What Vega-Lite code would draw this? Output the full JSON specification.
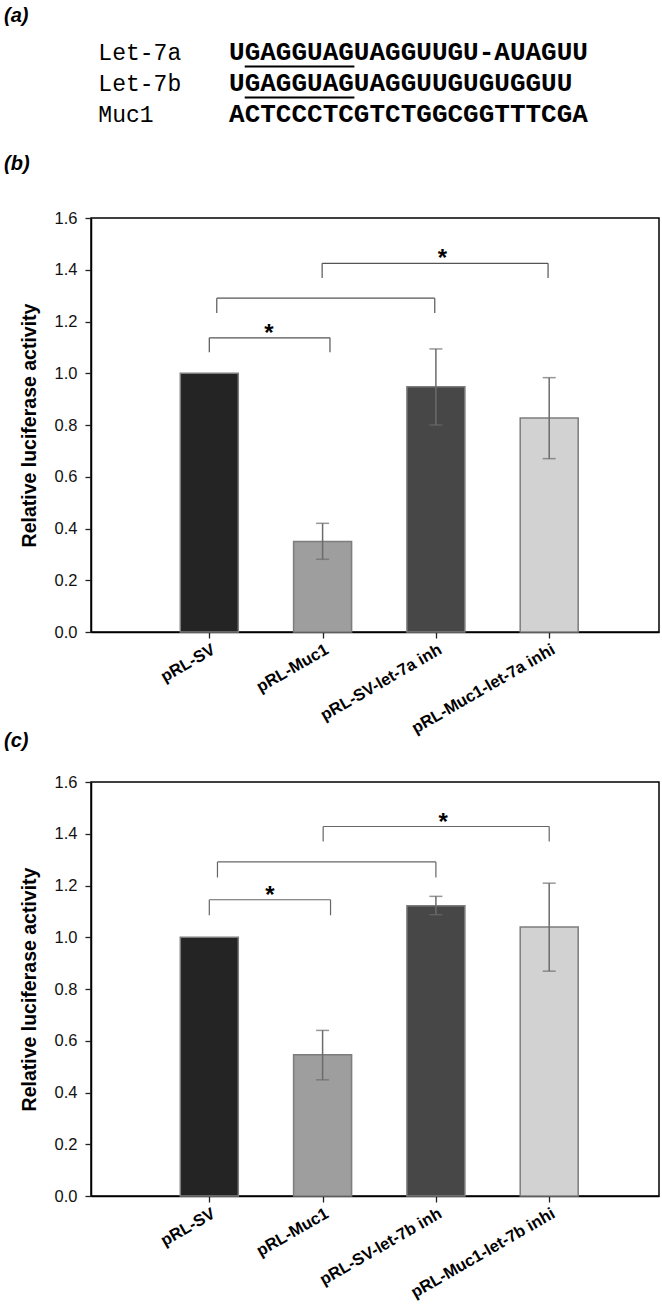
{
  "$schema": "https://vega.github.io/schema/vega-lite/v6.json",
  "padding": {"left": 3, "top": 6, "right": 0, "bottom": 0},
  "background": "white",
  "datasets": {
    "alignment": [
      {"name": "Let-7a", "sequence": "UGAGGUAGUAGGUUGU-AUAGUU", "row": 1, "seedStart": 1, "seedEnd": 8},
      {"name": "Let-7b", "sequence": "UGAGGUAGUAGGUUGUGUGGUU", "row": 2, "seedStart": 1, "seedEnd": 8},
      {"name": "Muc1", "sequence": "ACTCCCTCGTCTGGCGGTTTCGA", "row": 3, "seedStart": null, "seedEnd": null}
    ],
    "b_bars": [
      {"order": 1, "group": "pRL-SV", "value": 1.0, "lower": null, "upper": null},
      {"order": 2, "group": "pRL-Muc1", "value": 0.35, "lower": 0.281, "upper": 0.42},
      {"order": 3, "group": "pRL-SV-let-7a inh", "value": 0.948, "lower": 0.8, "upper": 1.094},
      {"order": 4, "group": "pRL-Muc1-let-7a inhi", "value": 0.827, "lower": 0.67, "upper": 0.983}
    ],
    "b_brackets": [
      {"from": 1.0, "to": 2.065, "y": 1.137, "leg": 1.081, "starAt": 1.526},
      {"from": 1.066, "to": 2.99, "y": 1.29, "leg": 1.233, "starAt": null},
      {"from": 1.996, "to": 3.99, "y": 1.425, "leg": 1.368, "starAt": 3.058}
    ],
    "c_bars": [
      {"order": 1, "group": "pRL-SV", "value": 1.0, "lower": null, "upper": null},
      {"order": 2, "group": "pRL-Muc1", "value": 0.546, "lower": 0.449, "upper": 0.64},
      {"order": 3, "group": "pRL-SV-let-7b inh", "value": 1.122, "lower": 1.087, "upper": 1.158},
      {"order": 4, "group": "pRL-Muc1-let-7b inhi", "value": 1.04, "lower": 0.869, "upper": 1.209}
    ],
    "c_brackets": [
      {"from": 1.0, "to": 2.07, "y": 1.145, "leg": 1.085, "starAt": 1.535},
      {"from": 1.072, "to": 3.0, "y": 1.291, "leg": 1.231, "starAt": null},
      {"from": 2.005, "to": 4.0, "y": 1.428, "leg": 1.37, "starAt": 3.065}
    ]
  },
  "spacing": 22,
  "vconcat": [
    {
      "title": {"text": "(a)", "offset": -6, "baseline": "alphabetic", "dx": -87},
      "width": 568,
      "height": 95,
      "view": {"stroke": null},
      "data": {"name": "alignment"},
      "layer": [
        {
          "mark": {"type": "text", "font": "Liberation Mono", "fontSize": 23, "align": "left", "baseline": "alphabetic", "color": "#000"},
          "encoding": {
            "x": {"datum": -8.34, "type": "quantitative", "scale": {"domain": [-8.81, 27.44], "nice": false, "zero": false}, "axis": null},
            "y": {"field": "row", "type": "quantitative", "scale": {"domain": [0.226, 3.29], "reverse": true, "nice": false, "zero": false}, "axis": null},
            "text": {"field": "name"}
          }
        },
        {
          "mark": {"type": "text", "font": "Liberation Mono", "fontSize": 26, "fontWeight": "bold", "align": "left", "baseline": "alphabetic", "color": "#000"},
          "encoding": {
            "x": {"datum": 0, "type": "quantitative", "scale": {"domain": [-8.81, 27.44], "nice": false, "zero": false}, "axis": null},
            "y": {"field": "row", "type": "quantitative", "scale": {"domain": [0.226, 3.29], "reverse": true, "nice": false, "zero": false}, "axis": null},
            "text": {"field": "sequence"}
          }
        },
        {
          "transform": [{"filter": "isValid(datum.seedStart)"}],
          "mark": {"type": "rule", "color": "#000", "strokeWidth": 2.2, "yOffset": 6.5},
          "encoding": {
            "x": {"field": "seedStart", "type": "quantitative", "scale": {"domain": [-8.81, 27.44], "nice": false, "zero": false}, "axis": null},
            "x2": {"field": "seedEnd"},
            "y": {"field": "row", "type": "quantitative", "scale": {"domain": [0.226, 3.29], "reverse": true, "nice": false, "zero": false}, "axis": null}
          }
        }
      ]
    },
    {
      "spacing": 150,
      "bounds": "flush",
      "vconcat": [
        {
          "title": {"text": "(b)", "offset": 20, "baseline": "alphabetic", "dx": -87},
          "width": 568,
          "height": 414,
          "layer": [
            {
              "data": {"name": "b_bars"},
              "mark": {"type": "bar", "size": 58, "stroke": "#7d7d7d", "strokeWidth": 1.5},
              "encoding": {
                "x": {"field": "order", "type": "quantitative", "scale": {"domain": [0, 4.925], "nice": false, "zero": false},
                  "axis": {"values": [1, 2, 3, 4], "labelExpr": "['', 'pRL-SV', 'pRL-Muc1', 'pRL-SV-let-7a inh', 'pRL-Muc1-let-7a inhi'][datum.value]", "labelAngle": -30, "labelAlign": "right", "labelBaseline": "top", "labelFontSize": 16.5, "labelFontWeight": "bold", "labelColor": "#000", "tickSize": 6, "labelPadding": 3, "title": null, "labelOverlap": false, "labelBound": false, "labelFlush": false}},
                "y": {"field": "value", "type": "quantitative", "scale": {"domain": [0, 1.6], "nice": false},
                  "axis": {"values": [0, 0.2, 0.4, 0.6, 0.8, 1.0, 1.2, 1.4, 1.6], "format": ".1f", "labelFontSize": 16.5, "tickSize": 6, "labelPadding": 8, "title": "Relative luciferase activity", "titleFontSize": 19.5, "titleFontWeight": "bold", "titleColor": "#000", "titlePadding": 15, "labelFlush": false}},
                "color": {"field": "order", "type": "ordinal", "scale": {"range": ["#242424", "#9e9e9e", "#474747", "#d2d2d2"]}, "legend": null}
              }
            },
            {
              "data": {"name": "b_bars"},
              "transform": [{"filter": "isValid(datum.upper)"}],
              "mark": {"type": "rule", "color": "#6b6b6b", "strokeWidth": 1.5},
              "encoding": {
                "x": {"field": "order", "type": "quantitative", "scale": {"domain": [0, 4.925], "nice": false, "zero": false}},
                "y": {"field": "lower", "type": "quantitative", "scale": {"domain": [0, 1.6], "nice": false}},
                "y2": {"field": "upper"}
              }
            },
            {
              "data": {"name": "b_bars"},
              "transform": [{"filter": "isValid(datum.upper)"}, {"fold": ["lower", "upper"], "as": ["end", "cap"]}],
              "mark": {"type": "tick", "orient": "horizontal", "size": 13, "thickness": 1.5, "color": "#6b6b6b"},
              "encoding": {
                "x": {"field": "order", "type": "quantitative", "scale": {"domain": [0, 4.925], "nice": false, "zero": false}},
                "y": {"field": "cap", "type": "quantitative", "scale": {"domain": [0, 1.6], "nice": false}}
              }
            },
            {
              "data": {"name": "b_brackets"},
              "mark": {"type": "rule", "color": "#555", "strokeWidth": 1.2},
              "encoding": {
                "x": {"field": "from", "type": "quantitative", "scale": {"domain": [0, 4.925], "nice": false, "zero": false}},
                "x2": {"field": "to"},
                "y": {"field": "y", "type": "quantitative", "scale": {"domain": [0, 1.6], "nice": false}}
              }
            },
            {
              "data": {"name": "b_brackets"},
              "transform": [{"fold": ["from", "to"], "as": ["side", "xEnd"]}],
              "mark": {"type": "rule", "color": "#555", "strokeWidth": 1.2},
              "encoding": {
                "x": {"field": "xEnd", "type": "quantitative", "scale": {"domain": [0, 4.925], "nice": false, "zero": false}},
                "y": {"field": "leg", "type": "quantitative", "scale": {"domain": [0, 1.6], "nice": false}},
                "y2": {"field": "y"}
              }
            },
            {
              "data": {"name": "b_brackets"},
              "transform": [{"filter": "isValid(datum.starAt)"}],
              "mark": {"type": "text", "text": "*", "fontSize": 24, "fontWeight": "bold", "baseline": "alphabetic", "align": "center", "dy": 3, "color": "#000"},
              "encoding": {
                "x": {"field": "starAt", "type": "quantitative", "scale": {"domain": [0, 4.925], "nice": false, "zero": false}},
                "y": {"field": "y", "type": "quantitative", "scale": {"domain": [0, 1.6], "nice": false}}
              }
            }
          ]
        },
        {
          "title": {"text": "(c)", "offset": 7, "baseline": "alphabetic", "dx": -87},
          "width": 568,
          "height": 414,
          "layer": [
            {
              "data": {"name": "c_bars"},
              "mark": {"type": "bar", "size": 58, "stroke": "#7d7d7d", "strokeWidth": 1.5},
              "encoding": {
                "x": {"field": "order", "type": "quantitative", "scale": {"domain": [0, 4.925], "nice": false, "zero": false},
                  "axis": {"values": [1, 2, 3, 4], "labelExpr": "['', 'pRL-SV', 'pRL-Muc1', 'pRL-SV-let-7b inh', 'pRL-Muc1-let-7b inhi'][datum.value]", "labelAngle": -30, "labelAlign": "right", "labelBaseline": "top", "labelFontSize": 16.5, "labelFontWeight": "bold", "labelColor": "#000", "tickSize": 6, "labelPadding": 3, "title": null, "labelOverlap": false, "labelBound": false, "labelFlush": false}},
                "y": {"field": "value", "type": "quantitative", "scale": {"domain": [0, 1.6], "nice": false},
                  "axis": {"values": [0, 0.2, 0.4, 0.6, 0.8, 1.0, 1.2, 1.4, 1.6], "format": ".1f", "labelFontSize": 16.5, "tickSize": 6, "labelPadding": 8, "title": "Relative luciferase activity", "titleFontSize": 19.5, "titleFontWeight": "bold", "titleColor": "#000", "titlePadding": 15, "labelFlush": false}},
                "color": {"field": "order", "type": "ordinal", "scale": {"range": ["#242424", "#9e9e9e", "#474747", "#d2d2d2"]}, "legend": null}
              }
            },
            {
              "data": {"name": "c_bars"},
              "transform": [{"filter": "isValid(datum.upper)"}],
              "mark": {"type": "rule", "color": "#6b6b6b", "strokeWidth": 1.5},
              "encoding": {
                "x": {"field": "order", "type": "quantitative", "scale": {"domain": [0, 4.925], "nice": false, "zero": false}},
                "y": {"field": "lower", "type": "quantitative", "scale": {"domain": [0, 1.6], "nice": false}},
                "y2": {"field": "upper"}
              }
            },
            {
              "data": {"name": "c_bars"},
              "transform": [{"filter": "isValid(datum.upper)"}, {"fold": ["lower", "upper"], "as": ["end", "cap"]}],
              "mark": {"type": "tick", "orient": "horizontal", "size": 13, "thickness": 1.5, "color": "#6b6b6b"},
              "encoding": {
                "x": {"field": "order", "type": "quantitative", "scale": {"domain": [0, 4.925], "nice": false, "zero": false}},
                "y": {"field": "cap", "type": "quantitative", "scale": {"domain": [0, 1.6], "nice": false}}
              }
            },
            {
              "data": {"name": "c_brackets"},
              "mark": {"type": "rule", "color": "#666", "strokeWidth": 1.2},
              "encoding": {
                "x": {"field": "from", "type": "quantitative", "scale": {"domain": [0, 4.925], "nice": false, "zero": false}},
                "x2": {"field": "to"},
                "y": {"field": "y", "type": "quantitative", "scale": {"domain": [0, 1.6], "nice": false}}
              }
            },
            {
              "data": {"name": "c_brackets"},
              "transform": [{"fold": ["from", "to"], "as": ["side", "xEnd"]}],
              "mark": {"type": "rule", "color": "#666", "strokeWidth": 1.2},
              "encoding": {
                "x": {"field": "xEnd", "type": "quantitative", "scale": {"domain": [0, 4.925], "nice": false, "zero": false}},
                "y": {"field": "leg", "type": "quantitative", "scale": {"domain": [0, 1.6], "nice": false}},
                "y2": {"field": "y"}
              }
            },
            {
              "data": {"name": "c_brackets"},
              "transform": [{"filter": "isValid(datum.starAt)"}],
              "mark": {"type": "text", "text": "*", "fontSize": 24, "fontWeight": "bold", "baseline": "alphabetic", "align": "center", "dy": 3, "color": "#000"},
              "encoding": {
                "x": {"field": "starAt", "type": "quantitative", "scale": {"domain": [0, 4.925], "nice": false, "zero": false}},
                "y": {"field": "y", "type": "quantitative", "scale": {"domain": [0, 1.6], "nice": false}}
              }
            }
          ]
        }
      ]
    }
  ],
  "config": {
    "font": "Liberation Sans",
    "view": {"stroke": "#000", "strokeWidth": 1.5},
    "axis": {"grid": false, "domainColor": "#000", "domainWidth": 1.5, "tickColor": "#222", "tickWidth": 1.3, "labelColor": "#111", "labelFont": "Liberation Sans", "titleFont": "Liberation Sans"},
    "title": {"font": "Liberation Sans", "fontSize": 20, "fontWeight": "bold", "fontStyle": "italic", "anchor": "start", "color": "#000", "frame": "group"}
  }
}
